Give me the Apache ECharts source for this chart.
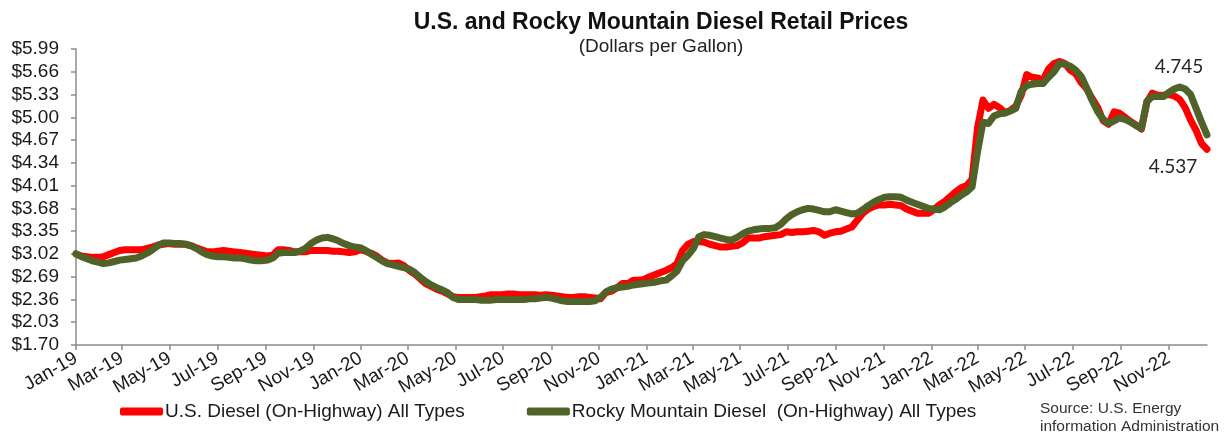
<!DOCTYPE html>
<html>
<head>
<meta charset="utf-8">
<script src="https://cdn.jsdelivr.net/npm/echarts@6/dist/echarts.min.js"></script>
<style>
  html, body { margin: 0; padding: 0; background: #ffffff; }
  #chart { width: 1225px; height: 435px; }
</style>
</head>
<body>
<div id="chart"></div>
<script>
// Weekly retail diesel prices (dollars per gallon), one value per Monday starting at firstWeek.
const firstWeek = '2019-01-07';

const usDiesel = [
  // 2019
  3.02, 2.99, 2.98, 2.97, 2.97, 2.98, 3.01, 3.04, 3.07, 3.08,
  3.08, 3.08, 3.08, 3.10, 3.12, 3.15, 3.16, 3.17, 3.16, 3.16,
  3.16, 3.14, 3.11, 3.08, 3.05, 3.05, 3.06, 3.07, 3.06, 3.05,
  3.04, 3.03, 3.02, 3.01, 3.00, 2.99, 3.00, 3.08, 3.08, 3.07,
  3.05, 3.05, 3.05, 3.07, 3.07, 3.07, 3.07, 3.06, 3.06, 3.05,
  3.04, 3.05,
  // 2020
  3.08, 3.06, 3.03, 2.99, 2.93, 2.89, 2.88, 2.89, 2.85, 2.78,
  2.73, 2.66, 2.59, 2.55, 2.51, 2.48, 2.44, 2.40, 2.39, 2.39,
  2.39, 2.39, 2.40, 2.41, 2.43, 2.43, 2.43, 2.44, 2.44, 2.43,
  2.43, 2.43, 2.43, 2.42, 2.43, 2.42, 2.41, 2.40, 2.39, 2.39,
  2.40, 2.40, 2.39, 2.38, 2.37, 2.46, 2.48, 2.53, 2.59, 2.59,
  2.64, 2.64,
  // 2021
  2.65, 2.69, 2.72, 2.75, 2.78, 2.82, 2.88, 3.07, 3.16, 3.20,
  3.20, 3.19, 3.16, 3.14, 3.12, 3.12, 3.13, 3.14, 3.18, 3.25,
  3.25, 3.25, 3.27, 3.28, 3.29, 3.30, 3.34, 3.33, 3.34, 3.34,
  3.35, 3.36, 3.34, 3.29, 3.32, 3.34, 3.35, 3.38, 3.41, 3.51,
  3.61, 3.67, 3.71, 3.73, 3.73, 3.74, 3.73, 3.72, 3.67, 3.64,
  3.61, 3.61,
  // 2022
  3.61, 3.66, 3.73, 3.78, 3.85, 3.92, 3.98, 4.01, 4.10, 4.85,
  5.25, 5.13, 5.19, 5.14, 5.07, 5.10, 5.16, 5.32, 5.62, 5.58,
  5.57, 5.54, 5.70, 5.78, 5.81, 5.78, 5.68, 5.63, 5.50, 5.41,
  5.27, 5.14, 4.95, 4.90, 5.08, 5.06, 5.00, 4.94, 4.89, 4.83,
  5.22, 5.35, 5.32, 5.32, 5.33, 5.31, 5.26, 5.14, 4.96, 4.81,
  4.62, 4.537
];

const rockyDiesel = [
  // 2019
  3.02, 2.98, 2.95, 2.92, 2.90, 2.88, 2.89, 2.91, 2.93, 2.94,
  2.95, 2.96, 2.99, 3.03, 3.08, 3.14, 3.18, 3.18, 3.17, 3.17,
  3.16, 3.14, 3.10, 3.05, 3.01, 2.99, 2.98, 2.98, 2.97, 2.96,
  2.96, 2.95, 2.93, 2.92, 2.92, 2.93, 2.96, 3.03, 3.04, 3.04,
  3.04, 3.06, 3.10, 3.17, 3.22, 3.25, 3.26, 3.24, 3.21, 3.17,
  3.14, 3.12,
  // 2020
  3.11, 3.07, 3.02, 2.97, 2.92, 2.88, 2.86, 2.84, 2.82, 2.80,
  2.75, 2.68, 2.62, 2.57, 2.53, 2.50, 2.46, 2.39, 2.36, 2.36,
  2.36, 2.36, 2.35, 2.35, 2.35, 2.36, 2.36, 2.36, 2.36, 2.36,
  2.36, 2.37, 2.37, 2.38, 2.39, 2.38, 2.36, 2.34, 2.33, 2.33,
  2.33, 2.33, 2.33, 2.34, 2.39, 2.47, 2.51, 2.53, 2.54, 2.55,
  2.57, 2.58,
  // 2021
  2.59, 2.60, 2.61, 2.63, 2.64, 2.70, 2.77, 2.92, 3.00, 3.10,
  3.27, 3.30, 3.29, 3.27, 3.25, 3.23, 3.22, 3.26, 3.31, 3.35,
  3.37, 3.38, 3.39, 3.39, 3.40, 3.45, 3.53, 3.59, 3.63, 3.66,
  3.68, 3.67, 3.65, 3.63, 3.63, 3.66, 3.64, 3.62, 3.60, 3.61,
  3.66, 3.72, 3.77, 3.81, 3.84, 3.85, 3.85, 3.84, 3.80, 3.77,
  3.74, 3.71,
  // 2022
  3.68, 3.67, 3.66, 3.70, 3.76, 3.81, 3.87, 3.92, 3.99, 4.50,
  4.93, 4.91, 5.02, 5.05, 5.06, 5.09, 5.13, 5.38, 5.46, 5.48,
  5.49, 5.49, 5.58, 5.66, 5.78, 5.77, 5.74, 5.68, 5.59, 5.42,
  5.24, 5.08, 4.97, 4.91, 4.95, 4.99, 4.97, 4.93, 4.88, 4.84,
  5.23, 5.30, 5.30, 5.30, 5.36, 5.41, 5.44, 5.41, 5.33, 5.13,
  4.93, 4.745
];

const priceTicks = [1.70, 2.03, 2.36, 2.69, 3.02, 3.35, 3.68, 4.01, 4.34, 4.67, 5.00, 5.33, 5.66, 5.99];
const tickYears = [2019, 2020, 2021, 2022];
const tickMonths = [0, 2, 4, 6, 8, 10];
const monthNames = ['Jan', 'Feb', 'Mar', 'Apr', 'May', 'Jun', 'Jul', 'Aug', 'Sep', 'Oct', 'Nov', 'Dec'];

const seriesNames = ['U.S. Diesel (On-Highway) All Types', 'Rocky Mountain Diesel  (On-Highway) All Types'];
const sourceNote = 'Source: U.S. Energy\ninformation Administration';

// x positions are days since the first weekly observation
const DAY = 86400000;
const t0 = Date.parse(firstWeek + 'T00:00:00Z');
const weekDays = usDiesel.map((_, i) => i * 7);
const lastDay = weekDays[weekDays.length - 1];
const toPairs = arr => arr.map((v, i) => [weekDays[i], v]);

const xTickDays = [];
const xTickLabel = {};
tickYears.forEach(y => tickMonths.forEach(m => {
  const d = Math.round((Date.UTC(y, m, 7) - t0) / DAY);
  xTickDays.push(d);
  xTickLabel[d] = monthNames[m] + '-' + String(y).slice(2);
}));

const FONT = "'Liberation Sans', Arial, sans-serif";
const AXIS_COLOR = '#8c8c8c';
const RED = '#ff0000';
const GREEN = '#4f6228';

function endMark(values, offset) {
  const v = values[values.length - 1];
  return {
    silent: true,
    symbol: 'circle',
    symbolSize: 1,
    itemStyle: { color: 'rgba(0,0,0,0)' },
    label: {
      show: true, position: 'inside', offset: offset,
      formatter: String(v),
      fontFamily: 'Lato, sans-serif', fontSize: 19, color: '#262626'
    },
    data: [{ coord: [lastDay, v], value: v }]
  };
}

const chart = echarts.init(document.getElementById('chart'), null, { renderer: 'canvas' });
chart.setOption({
  animation: false,
  backgroundColor: '#ffffff',
  textStyle: { fontFamily: FONT },
  title: {
    text: 'U.S. and Rocky Mountain Diesel Retail Prices',
    subtext: '(Dollars per Gallon)',
    left: 656, top: 6, textAlign: 'center', itemGap: 3,
    textStyle: { fontFamily: FONT, fontSize: 23, fontWeight: 'bold', color: '#111111' },
    subtextStyle: { fontFamily: FONT, fontSize: 19, color: '#222222' }
  },
  grid: { left: 76, right: 18, top: 49, bottom: 90, containLabel: false },
  xAxis: {
    type: 'value', min: 0, max: lastDay,
    axisLine: { show: true, lineStyle: { color: AXIS_COLOR, width: 1.5 } },
    axisTick: { show: true, customValues: xTickDays, length: 5, lineStyle: { color: AXIS_COLOR, width: 1.5 } },
    axisLabel: {
      customValues: xTickDays,
      formatter: v => xTickLabel[v] || '',
      rotate: 30, margin: 12, fontSize: 19, color: '#1a1a1a', fontFamily: FONT
    },
    splitLine: { show: false }
  },
  yAxis: {
    type: 'value', min: priceTicks[0], max: priceTicks[priceTicks.length - 1],
    axisLine: { show: true, lineStyle: { color: AXIS_COLOR, width: 1.5 } },
    axisTick: { show: true, customValues: priceTicks, length: 5, lineStyle: { color: AXIS_COLOR, width: 1.5 } },
    axisLabel: {
      customValues: priceTicks,
      formatter: v => '$' + v.toFixed(2),
      margin: 17, fontSize: 19, color: '#1a1a1a', fontFamily: FONT
    },
    splitLine: { show: false }
  },
  legend: {
    data: seriesNames,
    left: 115, top: 397,
    icon: 'roundRect', itemWidth: 43, itemHeight: 8, itemGap: 62,
    textStyle: { fontFamily: FONT, fontSize: 19, color: '#1a1a1a', padding: [0, 0, 0, -3] }
  },
  graphic: [{
    type: 'text', left: 1040, top: 400,
    style: { text: sourceNote, fontFamily: FONT, fontSize: 15.5, lineHeight: 18, fill: '#333333' }
  }],
  series: [
    {
      name: seriesNames[0], type: 'line', data: toPairs(usDiesel),
      showSymbol: false, symbol: 'none', smooth: false,
      lineStyle: { color: RED, width: 7, cap: 'round', join: 'round' },
      itemStyle: { color: RED },
      markPoint: endMark(usDiesel, [-34, 18])
    },
    {
      name: seriesNames[1], type: 'line', data: toPairs(rockyDiesel),
      showSymbol: false, symbol: 'none', smooth: false,
      lineStyle: { color: GREEN, width: 7, cap: 'round', join: 'round' },
      itemStyle: { color: GREEN },
      markPoint: endMark(rockyDiesel, [-28, -68])
    }
  ]
});
</script>
</body>
</html>
